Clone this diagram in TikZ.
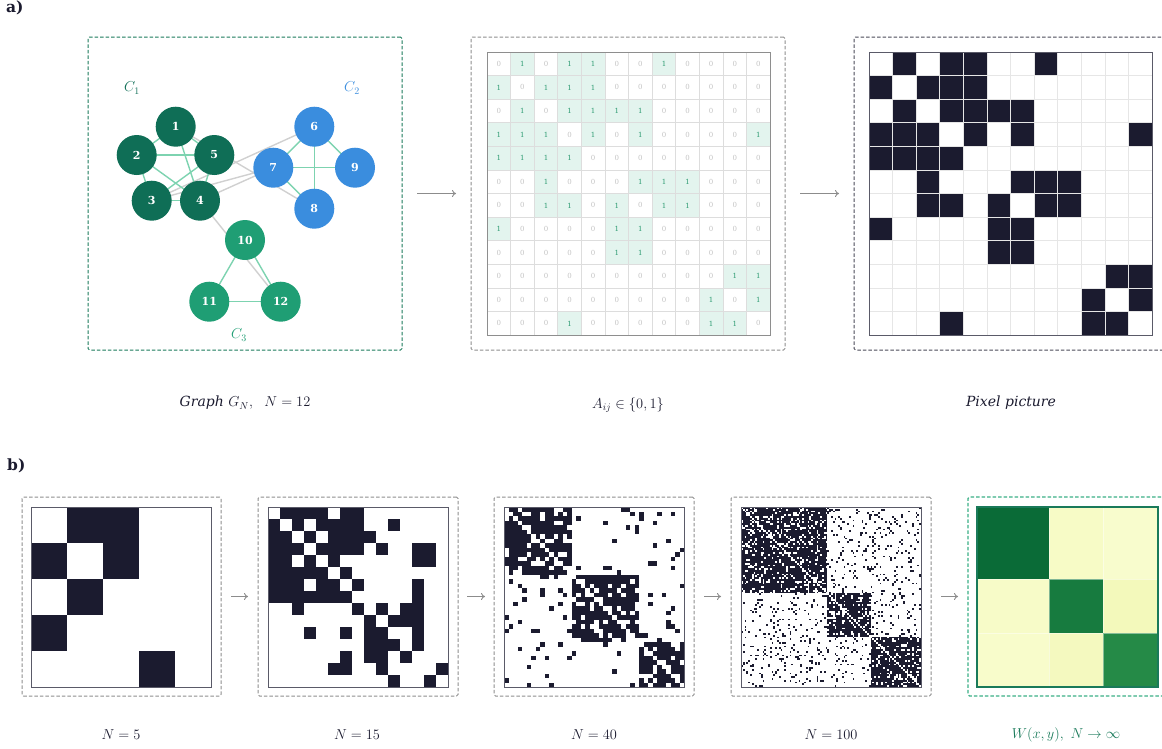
\documentclass[tikz,border=0pt]{standalone}
\usepackage{amsmath,amssymb}
\usepackage{fontspec}
\newfontfamily\dvs{DejaVu Serif}
\usetikzlibrary{arrows.meta}
\pgfdeclarelayer{background}
\pgfsetlayers{background,main}
\definecolor{navy}{HTML}{1B1B2F}
\definecolor{cone}{HTML}{0F6E56}
\definecolor{ctwo}{HTML}{3A8DDE}
\definecolor{cthree}{HTML}{1F9E74}
\definecolor{edgein}{HTML}{7DD3B0}
\definecolor{edgeout}{HTML}{D0D0D0}
\definecolor{boxgreen}{HTML}{1A7A5A}
\definecolor{mint}{HTML}{E3F4EE}
\definecolor{onegreen}{HTML}{2A9A70}
\definecolor{zerogray}{HTML}{C2C2C2}
\definecolor{gridgray}{HTML}{DDDDDD}
\definecolor{ltgrid}{HTML}{E6E6E6}
\definecolor{graphongreen}{HTML}{3AAF85}
\definecolor{arrowgray}{HTML}{8C8C8C}
\definecolor{panelgray}{HTML}{8E8E8E}
\definecolor{darkpanel}{HTML}{4A4A58}
\definecolor{mborder}{HTML}{5A5A68}
\definecolor{labelc}{HTML}{1B1B2F}
\definecolor{gA}{HTML}{0A6B37}
\definecolor{gB}{HTML}{177B3F}
\definecolor{gC}{HTML}{258A47}
\definecolor{yAB}{HTML}{F7FBC6}
\definecolor{yAC}{HTML}{F8FCCD}
\definecolor{yBA}{HTML}{F7FBC8}
\definecolor{yBC}{HTML}{F3F9BB}
\definecolor{yCA}{HTML}{F8FCCB}
\definecolor{yCB}{HTML}{F4F9BF}

\tikzset{
  panel/.style={draw, dash pattern=on 3.5pt off 2pt, line width=1pt, rounded corners=1.5pt, inner sep=0pt, outer sep=0pt},
  gnode/.style={circle, minimum size=40pt, inner sep=0pt, text=white, font=\dvs\fontsize{11}{13}\selectfont\bfseries},
  ein/.style={draw=edgein, line width=1.4pt},
  eout/.style={draw=edgeout, line width=1.4pt},
  flow/.style={-{To[length=4pt,width=7pt]}, draw=arrowgray, line width=0.9pt},
  mtxt/.style={inner sep=0pt, font=\dvs\fontsize{7}{8}\selectfont},
  caption/.style={text=labelc, font=\fontsize{14}{17}\selectfont},
  itcap/.style={text=labelc, font=\dvs\itshape\fontsize{14}{17}\selectfont},
  tag/.style={text=labelc, font=\dvs\fontsize{15.5}{18}\selectfont\bfseries, anchor=north west, inner sep=0pt},
  clabel/.style={font=\fontsize{14}{16}\selectfont},
  mframe/.style={draw=mborder, line width=1pt},
}

\newcommand\randmat[8]{%
  \foreach \i in {1,...,#3}{%
    \foreach \j in {1,...,#3}{%
      \ifnum\i=\j\relax\else
        \pgfmathtruncatemacro\bi{(\i>#5)+(\i>#6)}%
        \pgfmathtruncatemacro\bj{(\j>#5)+(\j>#6)}%
        \ifnum\bi=\bj\relax\def\pv{#7}\else\def\pv{#8}\fi
        \pgfmathsetmacro\rv{rnd}%
        \ifdim\rv pt<\pv pt
          \fill[navy] ({#1+(\j-1)*#4},{#2+(\i-1)*#4}) rectangle ++(#4+0.06,#4+0.06);
        \fi
      \fi
    }%
  }%
}

\def\Amat{{0,1,0,1,1,0,0,1,0,0,0,0},{1,0,1,1,1,0,0,0,0,0,0,0},{0,1,0,1,1,1,1,0,0,0,0,0},{1,1,1,0,1,0,1,0,0,0,0,1},{1,1,1,1,0,0,0,0,0,0,0,0},{0,0,1,0,0,0,1,1,1,0,0,0},{0,0,1,1,0,1,0,1,1,0,0,0},{1,0,0,0,0,1,1,0,0,0,0,0},{0,0,0,0,0,1,1,0,0,0,0,0},{0,0,0,0,0,0,0,0,0,0,1,1},{0,0,0,0,0,0,0,0,0,1,0,1},{0,0,0,1,0,0,0,0,0,1,1,0}}
\def\Bfive{{0,1,1,0,0},{1,0,1,0,0},{0,1,0,0,0},{1,0,0,0,0},{0,0,0,1,0}}
\def\Bfifteen{{2,3,4,5,7,8},{1,3,5,6,7,8,11},{1,2,4,6,7,8,9},{1,2,3,5,6,7,8,10,13,14},{1,2,4,6,13,14},{1,2,3,4,5,7},{1,2,3,5,6,8,13},{1,2,3,4,5,6,7,13},{3,8,10,12,13},{9,11,12,13},{4,7,9,10,13},{9,10,11,13},{7,9,10,12},{6,7,10,15},{11,14}}

\begin{document}
\begin{tikzpicture}[x=1pt,y=-1pt]
\useasboundingbox (0,0) rectangle (1162,748);

% ---------- tags ----------
\node[tag] (taga) at (6,1) {a)};
\node[tag] (tagb) at (7,459) {b)};

% ---------- panels row a ----------
\node[panel, draw=boxgreen, minimum width=314pt, minimum height=313pt] (pa) at (245,193.5) {};
\node[panel, draw=panelgray, minimum width=314pt, minimum height=313pt] (pb) at (628,193.5) {};
\node[panel, draw=darkpanel, minimum width=314pt, minimum height=313pt] (pc) at (1011,193.5) {};
\draw[flow, shorten <=15pt, shorten >=15pt] (pa.east) -- (pb.west);
\draw[flow, shorten <=15pt, shorten >=15pt] (pb.east) -- (pc.west);

% ---------- graph ----------
\node[gnode, fill=cone] (n1) at (175.7,126.7) {1};
\node[gnode, fill=cone] (n2) at (136.7,155) {2};
\node[gnode, fill=cone] (n5) at (214.3,155) {5};
\node[gnode, fill=cone] (n3) at (151.7,200.7) {3};
\node[gnode, fill=cone] (n4) at (200,200.7) {4};
\node[gnode, fill=ctwo] (n6) at (314.3,126.7) {6};
\node[gnode, fill=ctwo] (n7) at (273.3,167.7) {7};
\node[gnode, fill=ctwo] (n9) at (355,167.7) {9};
\node[gnode, fill=ctwo] (n8) at (314.3,208.7) {8};
\node[gnode, fill=cthree] (n10) at (245,240) {10};
\node[gnode, fill=cthree] (n11) at (209.3,301.7) {11};
\node[gnode, fill=cthree] (n12) at (280.7,301.7) {12};
\begin{pgfonlayer}{background}
\foreach \a/\b in {1/8,3/6,3/7,4/7,4/12}
  \draw[eout] (n\a.center) -- (n\b.center);
\foreach \a/\b in {1/2,1/4,1/5,2/3,2/4,2/5,3/4,3/5,4/5,6/7,6/8,6/9,7/8,7/9,10/11,10/12,11/12}
  \draw[ein] (n\a.center) -- (n\b.center);
\end{pgfonlayer}
\node[clabel, text=cone] (c1) at (132,88) {$C_1$};
\node[clabel, text=ctwo] (c2) at (352,88) {$C_2$};
\node[clabel, text=cthree] (c3) at (239,335) {$C_3$};

% ---------- adjacency matrix and pixel picture ----------
\foreach \row [count=\i] in \Amat {
  \foreach \v [count=\j] in \row {
    \pgfmathsetmacro\cx{487+(\j-1)*23.6}
    \pgfmathsetmacro\cy{52+(\i-1)*23.6}
    \ifnum\v=1
      \fill[mint] (\cx,\cy) rectangle ++(23.6,23.6);
      \node[mtxt, text=onegreen] (m-\i-\j) at (\cx+11.8,\cy+11.8) {1};
      \fill[navy] (\cx+382,\cy) rectangle ++(23.6,23.6);
    \else
      \node[mtxt, text=zerogray] (m-\i-\j) at (\cx+11.8,\cy+11.8) {0};
    \fi
  }
}
\foreach \k in {1,...,11}{
  \draw[gridgray, line width=0.7pt] (487+\k*23.6,52) -- ++(0,283.2);
  \draw[gridgray, line width=0.7pt] (487,52+\k*23.6) -- ++(283.2,0);
  \draw[ltgrid, line width=0.7pt] (869+\k*23.6,52) -- ++(0,283.2);
  \draw[ltgrid, line width=0.7pt] (869,52+\k*23.6) -- ++(283.2,0);
}
\draw[draw=panelgray, line width=1pt] (487,52) rectangle ++(283.2,283.2);
\draw[mframe] (869,52) rectangle ++(283.2,283.2);

% ---------- captions row a ----------
\node[itcap] (capa) at (245,403) {Graph \normalfont$G_N,\ \ N=12$};
\node[caption] (capb) at (628,405) {$A_{ij}\in\{0,1\}$};
\node[itcap] (capc) at (1011,403) {Pixel picture};

% ---------- panels row b ----------
\node[panel, draw=panelgray, minimum width=199pt, minimum height=199pt] (q1) at (121.5,596.5) {};
\node[panel, draw=panelgray, minimum width=200pt, minimum height=199pt] (q2) at (358,596.5) {};
\node[panel, draw=panelgray, minimum width=200pt, minimum height=199pt] (q3) at (594,596.5) {};
\node[panel, draw=panelgray, minimum width=200pt, minimum height=199pt] (q4) at (831,596.5) {};
\node[panel, draw=graphongreen, line width=1.2pt, minimum width=200pt, minimum height=199pt] (q5) at (1068,596.5) {};
\draw[flow, shorten <=10pt, shorten >=10pt] (q1.east) -- (q2.west);
\draw[flow, shorten <=9pt, shorten >=9pt] (q2.east) -- (q3.west);
\draw[flow, shorten <=10pt, shorten >=10pt] (q3.east) -- (q4.west);
\draw[flow, shorten <=10pt, shorten >=10pt] (q4.east) -- (q5.west);

% N = 5
\foreach \row [count=\i] in \Bfive {
  \foreach \v [count=\j] in \row {
    \ifnum\v=1
      \fill[navy] ({31+(\j-1)*36},{507+(\i-1)*36}) rectangle ++(36.1,36.1);
    \fi
  }
}
\draw[mframe] (31,507) rectangle ++(180,180);

% N = 15
\foreach \row [count=\i] in \Bfifteen {
  \foreach \c in \row {
    \fill[navy] ({268+(\c-1)*12},{507+(\i-1)*12}) rectangle ++(12.08,12.08);
  }
}
\draw[mframe] (268,507) rectangle ++(180,180);

% N = 40
\pgfmathsetseed{4021}
\randmat{504}{507}{40}{4.5}{15}{30}{0.82}{0.075}
\draw[mframe] (504,507) rectangle ++(180,180);

% N = 100
\pgfmathsetseed{9137}
\randmat{741}{507}{100}{1.8}{48}{72}{0.8}{0.1}
\draw[mframe] (741,507) rectangle ++(180,180);

% graphon
\fill[gA] (977,507) rectangle (1049,579);
\fill[yAB] (1049,507) rectangle (1103,579);
\fill[yAC] (1103,507) rectangle (1157,579);
\fill[yBA] (977,579) rectangle (1049,633);
\fill[gB] (1049,579) rectangle (1103,633);
\fill[yBC] (1103,579) rectangle (1157,633);
\fill[yCA] (977,633) rectangle (1049,687);
\fill[yCB] (1049,633) rectangle (1103,687);
\fill[gC] (1103,633) rectangle (1157,687);
\draw[white, opacity=0.45, line width=0.6pt] (1049,507) -- (1049,687) (1103,507) -- (1103,687) (977,579) -- (1157,579) (977,633) -- (1157,633);
\draw[draw=boxgreen, line width=1.2pt] (977,507) rectangle (1158,687);

% captions row b
\node[caption] (d1) at (121,735) {$N=5$};
\node[caption] (d2) at (357,735) {$N=15$};
\node[caption] (d3) at (594,735) {$N=40$};
\node[caption] (d4) at (831,735) {$N=100$};
\node[caption, text=boxgreen] (d5) at (1066,735) {$W(x,y),\ N\to\infty$};
\end{tikzpicture}
\end{document}
